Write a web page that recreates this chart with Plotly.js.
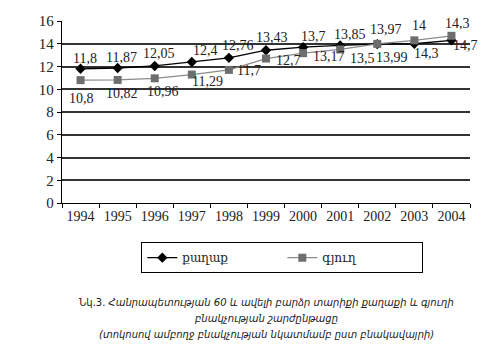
<!DOCTYPE html>
<html>
<head>
<meta charset="utf-8">
<script src="https://cdn.plot.ly/plotly-3.0.1.min.js"></script>
<style>html,body{margin:0;padding:0;background:#fff;}#chart{width:500px;height:360px;}</style>
</head>
<body>
<div id="chart"></div>
<script>
const years = ['1994','1995','1996','1997','1998','1999','2000','2001','2002','2003','2004'];
const cityName = 'քաղաք';
const villageName = 'գյուղ';
const cityValues = [11.8, 11.87, 12.05, 12.4, 12.76, 13.43, 13.7, 13.85, 13.97, 14, 14.3];
const villageValues = [10.8, 10.82, 10.96, 11.29, 11.7, 12.7, 13.17, 13.5, 13.99, 14.3, 14.7];
const yTicks = [0, 2, 4, 6, 8, 10, 12, 14, 16];

const fmt = v => String(v).replace('.', ',');

// label offsets (pixels) relative to each marker
const cityShift = [[4,10],[4,10],[4,12],[14,11],[9,12],[6,13],[10,11],[10,11],[9,15],[5,18],[6,17]];
const villageShift = [[1,-18],[4,-14],[8,-13],[16,-7],[20,-1],[22,-2],[26,-3],[22,-9],[15,-14],[12,-13],[14,-10]];

const serif = 'Liberation Serif';

const traces = [
  {
    x: years, y: cityValues, name: cityName, type: 'scatter', mode: 'lines+markers',
    line: {color: '#000000', width: 1.3},
    marker: {symbol: 'diamond', size: 8, color: '#000000'}
  },
  {
    x: years, y: villageValues, name: villageName, type: 'scatter', mode: 'lines+markers',
    line: {color: '#8a8a8a', width: 1.3},
    marker: {symbol: 'square', size: 8, color: '#6e6e6e'}
  }
];

const labelFont = {family: serif, size: 14, color: '#222'};
const annotations = [];
years.forEach((yr, i) => {
  annotations.push({xref: 'x', yref: 'y', x: i, y: cityValues[i], text: fmt(cityValues[i]), showarrow: false,
    xanchor: 'center', yanchor: 'middle', xshift: cityShift[i][0], yshift: cityShift[i][1], font: labelFont});
  annotations.push({xref: 'x', yref: 'y', x: i, y: villageValues[i], text: fmt(villageValues[i]), showarrow: false,
    xanchor: 'center', yanchor: 'middle', xshift: villageShift[i][0], yshift: villageShift[i][1], font: labelFont});
});

const capFont = {family: 'DejaVu Sans', size: 10, color: '#222'};
const captionLines = [
  'Նկ.3. <i>Հանրապետության 60 և ավելի բարձր տարիքի քաղաքի և գյուղի</i>',
  '<i>բնակչության շարժընթացը</i>',
  '<i>(տոկոսով ամբողջ բնակչության նկատմամբ ըստ բնակավայրի)</i>'
];
const captionY = [-0.544, -0.637, -0.725];
captionLines.forEach((t, i) => {
  annotations.push({xref: 'paper', yref: 'paper', x: 0.5, y: captionY[i], xanchor: 'center', yanchor: 'middle',
    showarrow: false, text: t, font: capFont});
});

const layout = {
  width: 500, height: 360,
  margin: {l: 62, r: 30, t: 21, b: 157},
  paper_bgcolor: '#fff', plot_bgcolor: '#fff',
  showlegend: true,
  font: {family: serif, color: '#222'},
  xaxis: {
    type: 'category', range: [-0.5, 10.5],
    showline: true, linecolor: '#000', linewidth: 1.2,
    ticks: 'outside', tickson: 'boundaries', ticklen: 4, tickcolor: '#000',
    showgrid: false, zeroline: false,
    tickfont: {family: serif, size: 14, color: '#222'}
  },
  yaxis: {
    range: [0, 16], tickvals: yTicks, ticktext: yTicks.map(String),
    showline: true, linecolor: '#000', linewidth: 1.2,
    ticks: 'outside', ticklen: 4, tickcolor: '#000',
    showgrid: true, gridcolor: '#333', gridwidth: 2, zeroline: false,
    tickfont: {family: serif, size: 15, color: '#222'}
  },
  legend: {
    orientation: 'h', x: 0.54, xanchor: 'center', y: -0.215, yanchor: 'top',
    bordercolor: '#000', borderwidth: 1, bgcolor: '#fff',
    font: {family: 'DejaVu Serif, serif', size: 12, color: '#222'},
    entrywidth: 95, itemwidth: 30
  },
  annotations: annotations
};

Plotly.newPlot('chart', traces, layout, {displayModeBar: false, staticPlot: true});
</script>
</body>
</html>
